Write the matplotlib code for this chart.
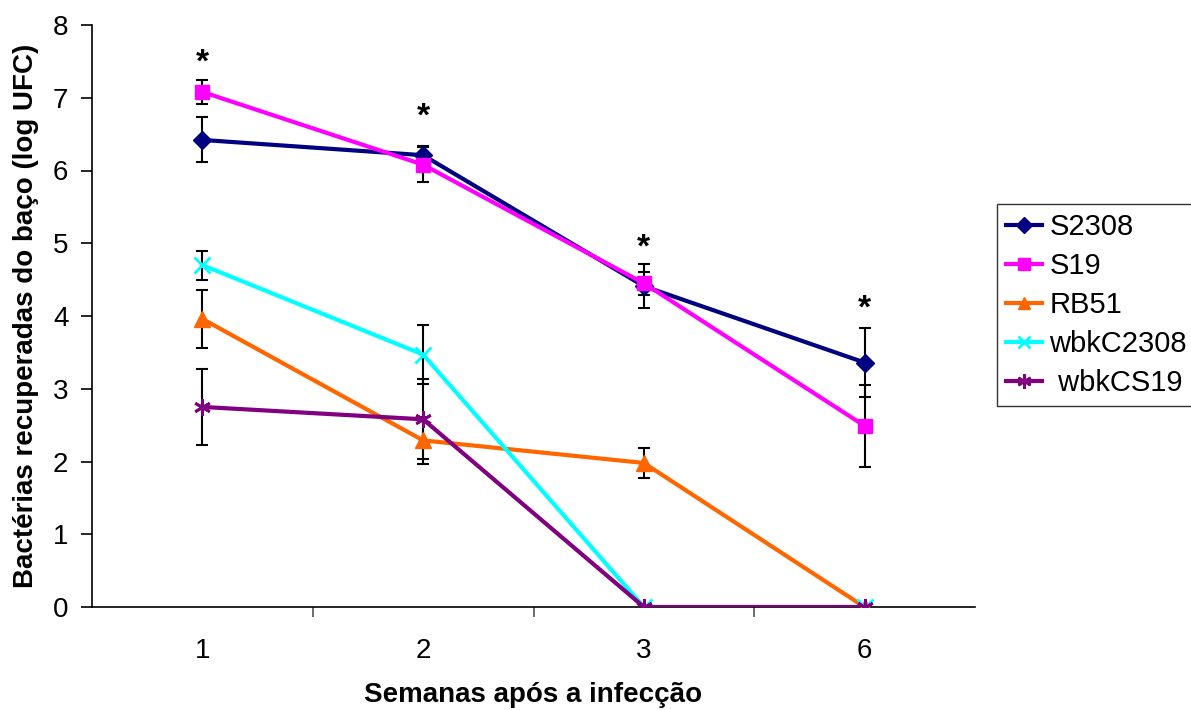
import matplotlib.pyplot as plt
import numpy as np

plt.rcParams['font.family'] = ['Liberation Sans', 'DejaVu Sans']

# Data
weeks = ['1', '2', '3', '6']
s2308 = [6.42, 6.21, 4.41, 3.36]
s2308_err = [0.31, 0.12, 0.30, 0.48]
s19 = [7.08, 6.08, 4.45, 2.49]
s19_err = [0.16, 0.24, 0.16, 0.56]
rb51 = [3.96, 2.29, 1.98, 0.0]
rb51_err = [0.40, 0.32, 0.20, 0.0]
wbkc2308 = [4.70, 3.47, 0.0, 0.0]
wbkc2308_err = [0.20, 0.40, 0.0, 0.0]
wbkcs19 = [2.75, 2.58, 0.0, 0.0]
wbkcs19_err = [0.52, 0.55, 0.0, 0.0]
star_y = [7.47, 6.73, 4.94, 4.09]

x = np.arange(len(weeks))

fig = plt.figure(figsize=(11.91, 7.10), dpi=100)
ax = fig.add_axes([92 / 1191, 103 / 710, 883 / 1191, 582 / 710])

series = [
    (s2308, s2308_err, 'S2308', '#000080', 'D', 9),
    (s19, s19_err, 'S19', '#FF00FF', 's', 10),
    (rb51, rb51_err, 'RB51', '#FF6600', '^', 11),
    (wbkc2308, wbkc2308_err, 'wbkC2308', '#00FFFF', 'x', 11),
    (wbkcs19, wbkcs19_err, ' wbkCS19', '#800080', (6, 2, 0), 12),
]

for vals, err, name, col, mk, ms in series:
    ax.plot(x, vals, color=col, lw=3, marker=mk, markersize=ms,
            markeredgewidth=2 if mk in ('x', (6, 2, 0)) else 1,
            markeredgecolor=col, markerfacecolor=col, label=name, zorder=3)
    e = np.array(err)
    m = e > 0
    ax.errorbar(x[m], np.array(vals)[m], yerr=e[m], fmt='none', ecolor='black',
                elinewidth=1.5, capsize=4.5, capthick=1.5, zorder=2)

for xi, yi in zip(x, star_y):
    ax.text(xi, yi, '*', ha='center', va='center', fontsize=24, fontweight='bold')

ax.set_xlim(-0.5, 3.5)
ax.set_ylim(0, 8)
ax.set_xticks(x)
ax.set_xticklabels(weeks)
ax.set_xticks([0.5, 1.5, 2.5], minor=True)
ax.tick_params(axis='x', which='major', length=0, labelsize=20, pad=22)
ax.tick_params(axis='x', which='minor', length=7, width=1.2, color='#555555')
ax.set_yticks(range(0, 9))
ax.tick_params(axis='y', which='major', length=8, width=1.2, labelsize=20, pad=9)

for sp in ['top', 'right']:
    ax.spines[sp].set_visible(False)
for sp in ['left', 'bottom']:
    ax.spines[sp].set_linewidth(1.2)

ax.set_xlabel('Semanas após a infecção', fontsize=20, fontweight='bold', labelpad=13)
ax.set_ylabel('Bactérias recuperadas do baço (log UFC)', fontsize=20, fontweight='bold', labelpad=10)

leg = fig.legend(loc='upper left', bbox_to_anchor=(997 / 1191, 1 - 204 / 710),
                 fontsize=21, frameon=True, fancybox=False, edgecolor='black',
                 handlelength=1.25, handletextpad=0.25, borderpad=0.3,
                 labelspacing=0.38, borderaxespad=0, markerscale=0.85)
leg.get_frame().set_linewidth(1.0)

fig.savefig('out.png', dpi=100)
